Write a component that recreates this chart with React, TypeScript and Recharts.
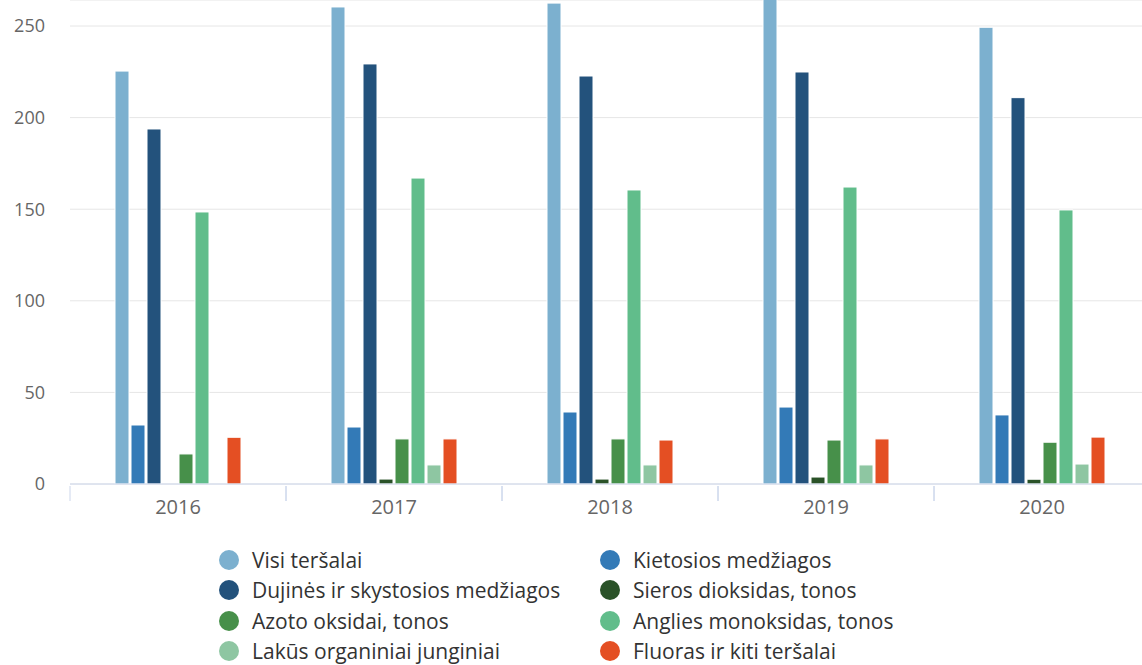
import { BarChart, Bar, XAxis, YAxis, CartesianGrid, Legend } from 'recharts'

const years = ['2016', '2017', '2018', '2019', '2020']

const visi = [225.4, 260.4, 262.5, 270, 249.3]
const kietosios = [32.2, 31.1, 39.3, 42, 37.7]
const dujines = [193.8, 229.3, 222.7, 224.9, 210.9]
const sieros = [0, 2.7, 2.7, 3.8, 2.6]
const azoto = [16.4, 24.6, 24.6, 24, 22.8]
const anglies = [148.5, 167, 160.5, 162.1, 149.6]
const lakus = [0, 10.4, 10.4, 10.4, 10.9]
const fluoras = [25.5, 24.6, 24, 24.6, 25.6]

const yTicks = [0, 50, 100, 150, 200, 250]

const series = [
  { key: 'visi', name: 'Visi teršalai', color: '#7cb0cf' },
  { key: 'kietosios', name: 'Kietosios medžiagos', color: '#337ab7' },
  { key: 'dujines', name: 'Dujinės ir skystosios medžiagos', color: '#23527c' },
  { key: 'sieros', name: 'Sieros dioksidas, tonos', color: '#2a5228' },
  { key: 'azoto', name: 'Azoto oksidai, tonos', color: '#47904a' },
  { key: 'anglies', name: 'Anglies monoksidas, tonos', color: '#61bd8b' },
  { key: 'lakus', name: 'Lakūs organiniai junginiai', color: '#8ec6a2' },
  { key: 'fluoras', name: 'Fluoras ir kiti teršalai', color: '#e44f23' },
]

const data = years.map((year, i) => ({
  year,
  visi: visi[i],
  kietosios: kietosios[i],
  dujines: dujines[i],
  sieros: sieros[i],
  azoto: azoto[i],
  anglies: anglies[i],
  lakus: lakus[i],
  fluoras: fluoras[i],
}))

const font = '"Open Sans", sans-serif'
const chartWidth = 1160
const plotLeft = 70
const plotRight = 10
const bandWidth = (chartWidth - plotLeft - plotRight) / years.length

// year label plus the boundary tick on the left of each band
function YearTick(props: any) {
  const { x, y, payload } = props
  const left = x - bandWidth / 2
  return (
    <g>
      <line x1={left} x2={left} y1={y} y2={y + 15} stroke="#ccd6eb" strokeWidth={1} />
      <line x1={left + bandWidth} x2={left + bandWidth} y1={y} y2={y + 15} stroke="#ccd6eb" strokeWidth={1} />
      <text x={x} y={y + 28} textAnchor="middle" fill="#666" fontSize={20} fontFamily={font}>
        {payload.value}
      </text>
    </g>
  )
}

function LegendBox() {
  return (
    <div
      style={{
        position: 'absolute',
        left: 219,
        top: 545,
        display: 'grid',
        gridTemplateColumns: '381px 320px',
        fontFamily: font,
        fontSize: 21,
        color: '#333',
      }}
    >
      {series.map(s => (
        <div key={s.key} style={{ display: 'flex', alignItems: 'center', height: 30.3, whiteSpace: 'nowrap' }}>
          <span
            style={{
              width: 20,
              height: 20,
              borderRadius: '50%',
              background: s.color,
              display: 'inline-block',
              marginRight: 13,
              flex: 'none',
            }}
          />
          {s.name}
        </div>
      ))}
    </div>
  )
}

function App() {
  return (
    <div
      style={{
        position: 'absolute',
        top: 0,
        left: 0,
        width: 1142,
        height: 665,
        overflow: 'hidden',
        background: '#fff',
      }}
    >
      <BarChart
        width={chartWidth}
        height={534}
        data={data}
        margin={{ top: 0, right: plotRight, bottom: 0, left: 0 }}
        barSize={14}
        barGap={2}
      >
        <CartesianGrid vertical={false} stroke="#e6e6e6" />
        <XAxis
          dataKey="year"
          stroke="#ccd6eb"
          tickLine={false}
          height={50}
          tickSize={0}
          tick={<YearTick />}
        />
        <YAxis
          domain={[0, 264.2]}
          ticks={yTicks}
          allowDataOverflow
          axisLine={false}
          tickLine={false}
          width={plotLeft}
          tickMargin={19}
          tick={{ fill: '#666', fontSize: 18, fontFamily: font }}
        />
        {series.map(s => (
          <Bar
            key={s.key}
            dataKey={s.key}
            name={s.name}
            fill={s.color}
            stroke="#fff"
            strokeWidth={1}
            isAnimationActive={false}
          />
        ))}
        <Legend content={() => null} />
      </BarChart>
      <LegendBox />
    </div>
  )
}

export default App
